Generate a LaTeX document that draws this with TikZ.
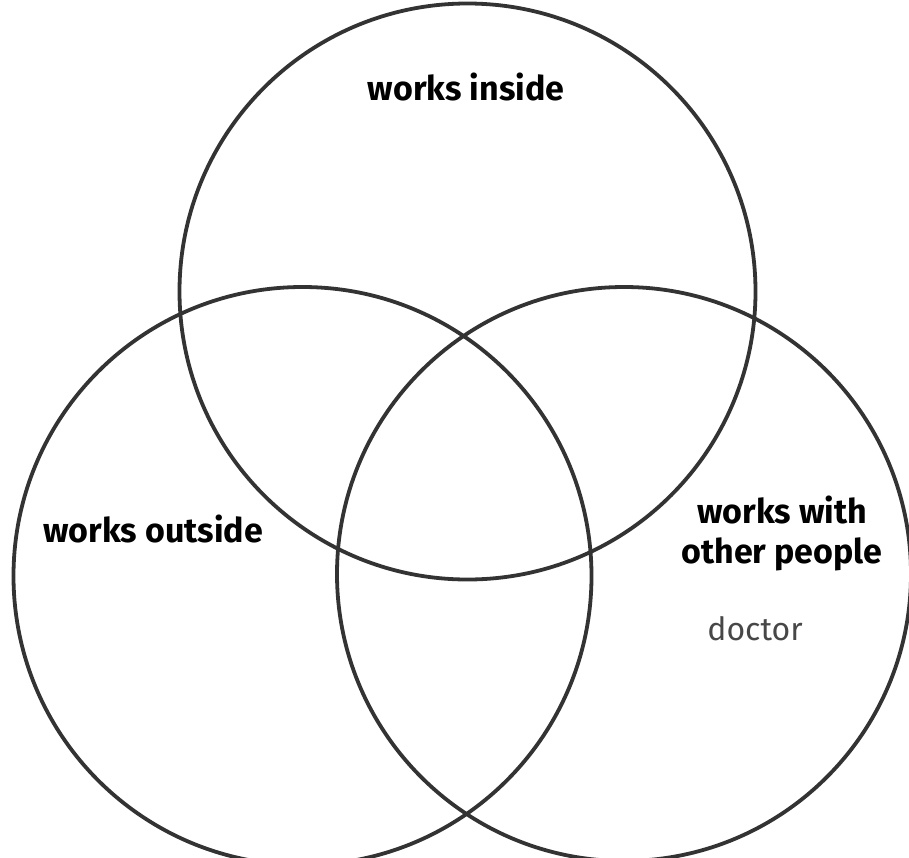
\documentclass[tikz,border=0pt]{standalone}
\usepackage{fontspec}
\setmainfont{Fira Sans}
\begin{document}
\begin{tikzpicture}[x=1pt,y=-1pt,
  ring/.style={draw=black!80, line width=3.8pt},
  lab/.style={font=\fontsize{34}{38}\selectfont\bfseries, text=black, inner sep=0pt, align=center},
  item/.style={font=\fontsize{32}{36}\selectfont, text=black!72, inner sep=0pt}]
\useasboundingbox[fill=white] (0,0) rectangle (909,857);
\draw[ring] (467.5,291.5) circle[radius=288];
\draw[ring] (302.5,576) circle[radius=289];
\draw[ring] (624,574) circle[radius=287];
\node[lab, anchor=base] (inside) at (466,100) {works inside};
\node[lab, anchor=base] (outside) at (153,542) {works outside};
\node[lab, anchor=base] (with) at (782,523) {works with};
\node[lab, anchor=base] (people) at (782,563) {other people};
\node[item, anchor=base] (doctor) at (755,640) {doctor};
\end{tikzpicture}
\end{document}
